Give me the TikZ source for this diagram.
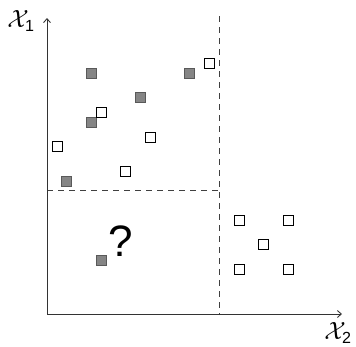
\documentclass[tikz,border=0pt]{standalone}
\usepackage{fontspec}
\setmainfont{Liberation Sans}
\setsansfont{Liberation Sans}
\usetikzlibrary{arrows.meta}
\begin{document}
\begin{tikzpicture}[x=1pt,y=-1pt,
  axis/.style={draw=black!80,line width=0.9pt,-{Straight Barb[length=4pt,width=7pt]}},
  split/.style={draw=black!75,line width=0.9pt,dash pattern=on 6pt off 5pt},
  filled/.style={draw=black!65,fill=black!48,line width=1pt,minimum size=10pt,inner sep=0pt},
  empty/.style={draw=black,fill=white,line width=1pt,minimum size=10pt,inner sep=0pt},
  lbl/.style={inner sep=0pt}]
\useasboundingbox (0,0) rectangle (356,346);
\coordinate (O) at (47,314);
\coordinate (Ytop) at (47,18);
\coordinate (Xend) at (342,314);
\coordinate (Vtop) at (219,16);
\coordinate (Vbot) at (219,314);
\coordinate (Hl) at (47,190);
\coordinate (Hr) at (219,190);
\draw[split] (Vtop) -- (Vbot);
\draw[split] (Hl) -- (Hr);
\draw[axis] (O) -- (Ytop);
\draw[axis] (O) -- (Xend);
\node[lbl] (x1) at (21,21) {\fontsize{23}{23}\selectfont$\mathcal{X}_{\mathsf{1}}$};
\node[lbl] (x2) at (338,333) {\fontsize{23}{23}\selectfont$\mathcal{X}_{\mathsf{2}}$};
% filled
\node[filled] (f1) at (91.7,73.3) {};
\node[filled] (f2) at (189.7,73.3) {};
\node[filled] (f3) at (140.3,97.7) {};
\node[filled] (f4) at (91.7,122.3) {};
\node[filled] (f5) at (66.7,181) {};
\node[filled] (f6) at (101.3,260) {};
% empty
\node[empty] (e1) at (209.3,63.3) {};
\node[empty] (e2) at (101.3,112.3) {};
\node[empty] (e3) at (150.3,137) {};
\node[empty] (e4) at (57,146.7) {};
\node[empty] (e5) at (125.7,171.3) {};
\node[empty] (e6) at (239,220.3) {};
\node[empty] (e7) at (288,220.3) {};
\node[empty] (e8) at (263.3,244.7) {};
\node[empty] (e9) at (239,269) {};
\node[empty] (e10) at (288,269) {};
\node[lbl] (q) at (121,241) {\fontsize{44}{44}\selectfont ?};
\end{tikzpicture}
\end{document}
